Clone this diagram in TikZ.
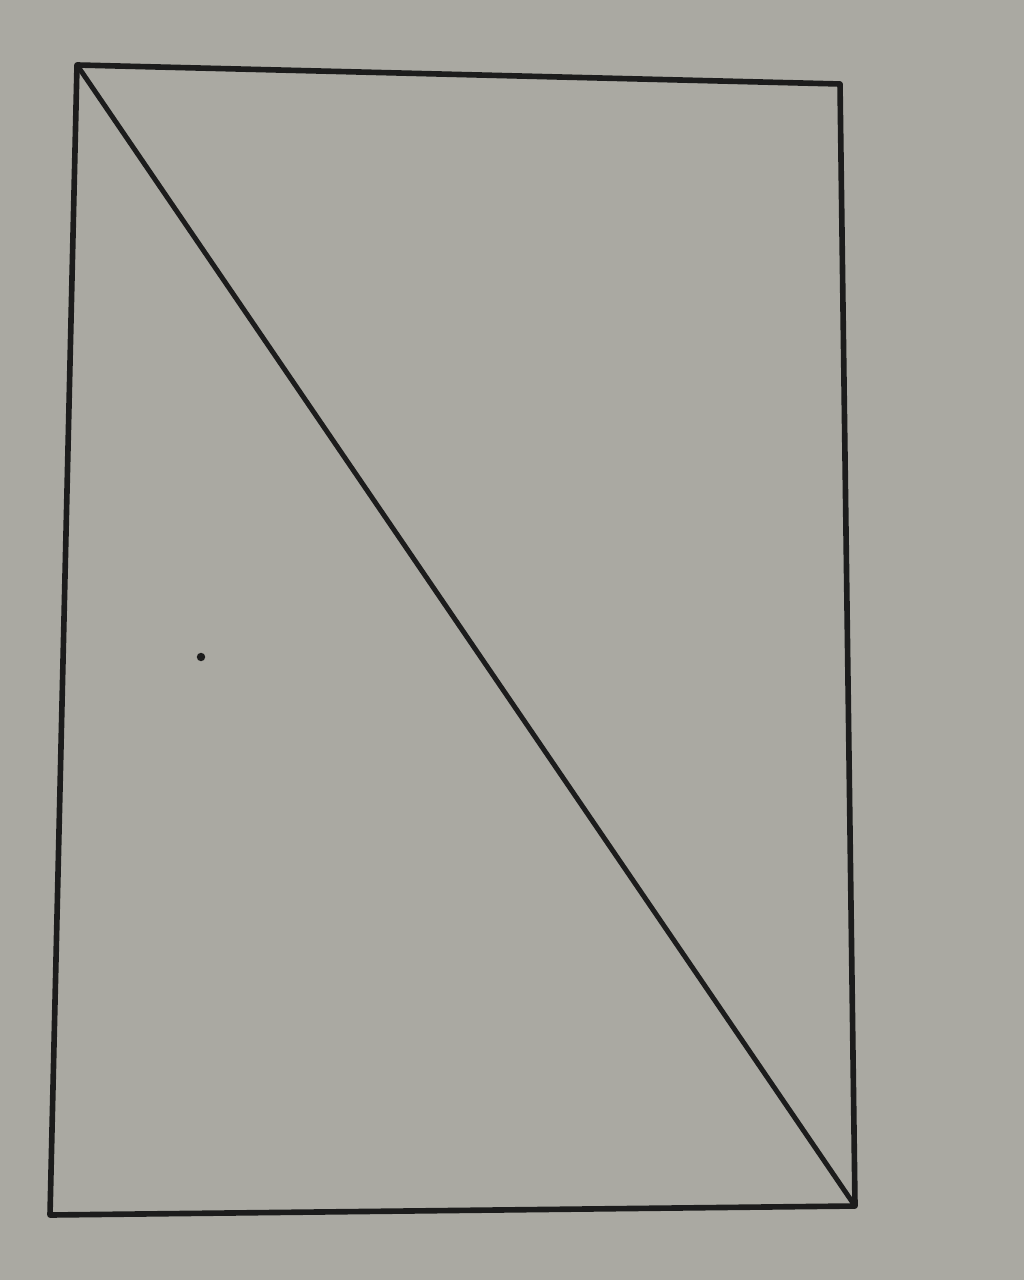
\documentclass[tikz,border=0pt]{standalone}
\definecolor{paper}{RGB}{170,169,162}
\definecolor{ink}{RGB}{28,28,28}
\begin{document}
\begin{tikzpicture}[x=0.01cm,y=-0.01cm]
			\fill [paper] (0,0) rectangle (1024,1280);
			\useasboundingbox (0,0) rectangle (1024,1280);
			\coordinate (A) at (77,65);
			\coordinate (B) at (840,84);
			\coordinate (C) at (855,1206);
			\coordinate (D) at (50,1215);
			\draw [line width=1.6pt, ink, line join=round] (A)-- (B)-- (C)-- (D)-- cycle;
			\draw [line width=1.4pt, ink] (A)-- (C);
			\fill [ink] (201,657) circle (1.2pt);
		\end{tikzpicture}
\end{document}
